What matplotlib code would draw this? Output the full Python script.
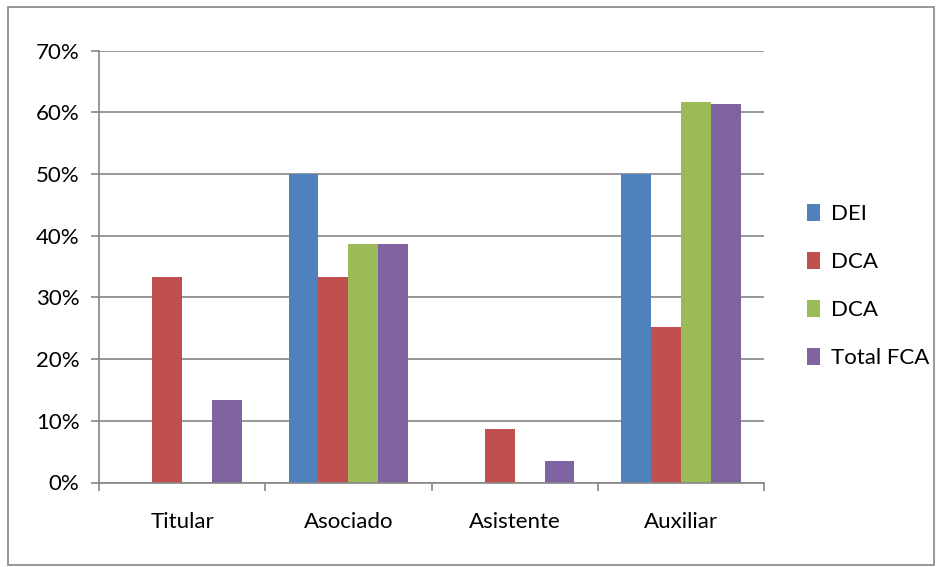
import numpy as np
from matplotlib import pyplot as plt
from matplotlib.patches import Rectangle

categories = ["Titular", "Asociado", "Asistente", "Auxiliar"]
series_names = ["DEI", "DCA", "DCA", "Total FCA"]
dei = [0, 50.0, 0, 50.0]
dca_red = [33.3, 33.3, 8.6, 25.2]
dca_green = [0, 38.7, 0, 61.7]
total_fca = [13.3, 38.7, 3.5, 61.3]
colors = ["#4F81BD", "#C0504D", "#9BBB59", "#8064A2"]

plt.rcParams['font.family'] = ['Lato', 'DejaVu Sans']
grey = "#868686"
fs = 16

fig = plt.figure(figsize=(9.36, 5.67), dpi=100)
W, H = 936, 567
ax = fig.add_axes([99 / W, 1 - 482.5 / H, (764 - 99) / W, (482.5 - 50.6) / H])

# outer chart border
fig.patches.append(Rectangle((8 / W, 1 - 565 / H), (934 - 8) / W, (565 - 7) / H,
                             transform=fig.transFigure, fill=False,
                             edgecolor=grey, linewidth=1.2))

x = np.arange(len(categories))
bw = 0.18
data = [dei, dca_red, dca_green, total_fca]
for i, (vals, name, col) in enumerate(zip(data, series_names, colors)):
    ax.bar(x + (i - 1.5) * bw, vals, bw, color=col, label=name, zorder=3)

ax.set_xlim(-0.5, 3.5)
ax.set_ylim(0, 70)
ax.set_yticks(range(0, 71, 10))
ax.set_yticklabels([f"{v}%" for v in range(0, 71, 10)], fontsize=fs)
ax.set_xticks(x)
ax.set_xticklabels(categories, fontsize=fs)
ax.set_xticks(np.arange(-0.5, 4, 1), minor=True)
ax.tick_params(axis='x', which='major', length=0, pad=21)
ax.tick_params(axis='x', which='minor', length=6, color=grey, width=1.2)
ax.tick_params(axis='y', length=6, color=grey, width=1.2, pad=8)
ax.yaxis.grid(True, color=grey, linewidth=1.2, zorder=0)
ax.set_axisbelow(True)
for s in ["top", "right"]:
    ax.spines[s].set_visible(False)
for s in ["left", "bottom"]:
    ax.spines[s].set_color(grey)
    ax.spines[s].set_linewidth(1.2)
    ax.spines[s].set_zorder(4)

ax.legend(loc="center left", bbox_to_anchor=(1.064, 0.455), frameon=False,
          fontsize=fs, handlelength=0.6, handleheight=0.8, handletextpad=0.5,
          labelspacing=1.25, borderaxespad=0, borderpad=0)

fig.savefig("out.png", dpi=100)
